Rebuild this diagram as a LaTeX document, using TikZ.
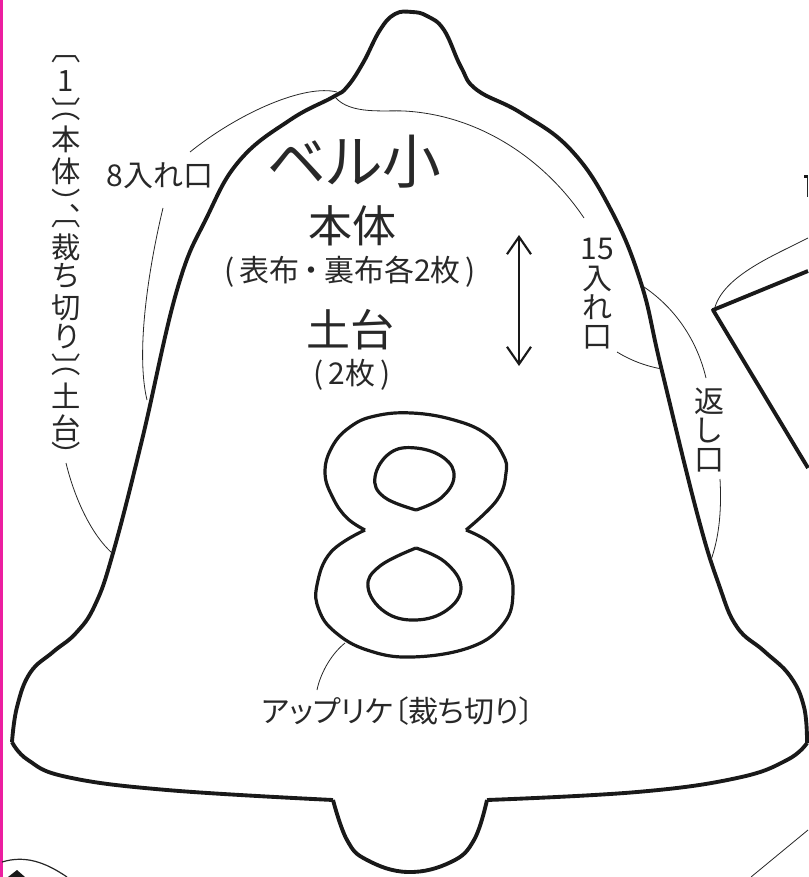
\documentclass[tikz,border=0pt]{standalone}
\usepackage{fontspec}
\usepackage{tikz}
\usetikzlibrary{arrows.meta,positioning}
\setmainfont{Noto Sans CJK JP}[RawFeature=+palt]
\definecolor{inktext}{RGB}{40,40,40}
\definecolor{edgepink}{RGB}{236,30,160}
\tikzset{
    %Define standard arrow tip
    >={Straight Barb[length=13pt,width=18pt,line width=1.6pt]},
    % pattern outlines
    bellline/.style={draw=black!90, line width=2.9pt, line join=round},
    figline/.style={draw=black!90, line width=2.4pt, line join=round},
    % leader lines
    lead/.style={draw=black!85, line width=.6pt},
    % labels
    lbl/.style={text=inktext, inner sep=0pt, font=\fontsize{22.5}{26}\selectfont},
    stacklbl/.style={lbl, align=center, font=\fontsize{22.5}{22}\selectfont},
    sidelbl/.style={lbl, font=\fontsize{22}{22}\selectfont}
}
\begin{document}
\begin{tikzpicture}[x=.75pt,y=-.75pt]
\useasboundingbox (0,0) rectangle (808,877);
         %edge
          \fill[edgepink] (0,0) rectangle (2.6,877);
         %bell
          \draw[bellline] plot[smooth,tension=.7] coordinates {(807,743) (804,707) (790,676) (764,651) (737,627) (719,585) (697,513) (661,367) (641,283) (611,210) (571,150) (521,113) (477,90) (461,67) (444,30) (427,16) (412,12) (395,14) (380,30) (363,63) (347,87) (333,97) (290,120) (240,160) (207,217) (177,290) (142,440) (113,553) (95,605) (76,633) (53,652) (30,673) (17,707) (12,742)};
          \draw[bellline] plot[smooth,tension=.7] coordinates {(12,742) (28,760) (67,777) (167,790) (333,800)};
          \draw[bellline] plot[smooth,tension=.7] coordinates {(487,800) (637,792) (737,778) (787,760) (807,743)};
          \draw[bellline] plot[smooth,tension=.7] coordinates {(333,800) (347,840) (367,860) (408,872) (451,862) (474,840) (487,800)};
         %numeral
          \draw[figline] plot[smooth,tension=.7] coordinates {(365,530) (347,518) (333,498) (325,473) (332,447) (350,427) (375,416) (412,413) (454,420) (486,434) (503,455) (506,473) (497,500) (466,530)};
          \draw[figline] plot[smooth,tension=.7] coordinates {(466,530) (490,543) (507,565) (513,593) (504,623) (471,647) (412,657) (367,650) (335,632) (319,610) (317,585) (331,552) (365,530)};
          \draw[figline] plot[smooth,tension=.7] coordinates {(416,510) (441,498) (454,477) (444,458) (416,448) (390,453) (375,477) (384,497) (416,510)};
          \draw[figline] plot[smooth,tension=.7] coordinates {(416,548) (445,562) (461,587) (447,610) (416,620) (385,612) (368,587) (380,566) (416,548)};
         %right neighbour
          \draw[bellline] (808,271) -- (713,310) -- (808,468);
         %cut-off marks at the page edges
          \fill[black!90] (804,175.5) rectangle (808,178);
          \draw[lead] (807.5,178) -- (807.5,197);
          \draw[lead, line width=.9pt] (2,862) .. controls (25,855) and (45,862) .. (67,877);
          \fill[black!90] (8,877) -- (17,870) -- (25,877) -- cycle;
         %arrow
          \draw[<->, line width=1.9pt, draw=black!90] (519,235) -- (519,366);
         %nodes
          \node[lbl, font=\fontsize{44}{44}\selectfont] (title) at (354,162) {ベル小};
          \node[lbl, font=\fontsize{33}{33}\selectfont] (body) at (352,226) {本体};
          \node[lbl] (bodyn) at (350,272) {(\,表布\,・\,裏布各2枚\,)};
          \node[lbl, font=\fontsize{33}{33}\selectfont] (base) at (350,330) {土台};
          \node[lbl] (basen) at (352,375) {(\,2枚\,)};
          \node[lbl] (open8) at (160,176) {8入れ口};
          \node[stacklbl] (open15) at (597,294) {15\\入\\れ\\口};
          \node[stacklbl] (turn) at (709,430) {返\\し\\口};
          \node[lbl] (appl) at (398,711) {アップリケ〔裁ち切り〕};
          \foreach \ch/\y [count=\i] in {︹/59,1/81,︺/110,︵/117,本/139,体/171,︶/201,︑/216,︹/224,裁/247,ち/276,切/308,り/337,︺/366,︵/372,土/396,台/428,︶/454}
            \node[sidelbl] (side\i) at (66,\y) {\ch};
         %free ends of the leaders
          \coordinate (a1) at (190,152);
          \coordinate (a2) at (337,92);
          \coordinate (b1) at (163,208);
          \coordinate (b2) at (147,400);
          \coordinate (c1) at (335,97);
          \coordinate (c2) at (584,218);
          \coordinate (d1) at (617,352);
          \coordinate (d2) at (662,369);
          \coordinate (e1) at (644,287);
          \coordinate (e2) at (706,378);
          \coordinate (f1) at (720,479);
          \coordinate (f2) at (711,560);
          \coordinate (g1) at (66,463);
          \coordinate (g2) at (112,553);
          \coordinate (h1) at (345,643);
          \coordinate (h2) at (317,690);
          \coordinate (k1) at (715,307);
          \coordinate (k2) at (808,238);
          \coordinate (m1) at (751,877);
          \coordinate (m2) at (808,830);
         %leaders
          \draw[lead] (a1) .. controls (240,112) and (305,84) .. (a2);
          \draw[lead] (b1) .. controls (150,262) and (135,350) .. (b2);
          \draw[lead] (c1) .. controls (350,115) and (385,110) .. (404,111) .. controls (480,115) and (545,160) .. (c2);
          \draw[lead] (d1) .. controls (630,360) and (645,366) .. (d2);
          \draw[lead] (e1) .. controls (675,308) and (697,340) .. (e2);
          \draw[lead] (f1) .. controls (722,515) and (718,540) .. (f2);
          \draw[lead] (g1) .. controls (75,500) and (92,535) .. (g2);
          \draw[lead] (h1) .. controls (330,655) and (320,675) .. (h2);
          \draw[lead] (k1) .. controls (725,275) and (775,255) .. (k2);
          \draw[lead] (m1) -- (m2);
\end{tikzpicture}
\end{document}
